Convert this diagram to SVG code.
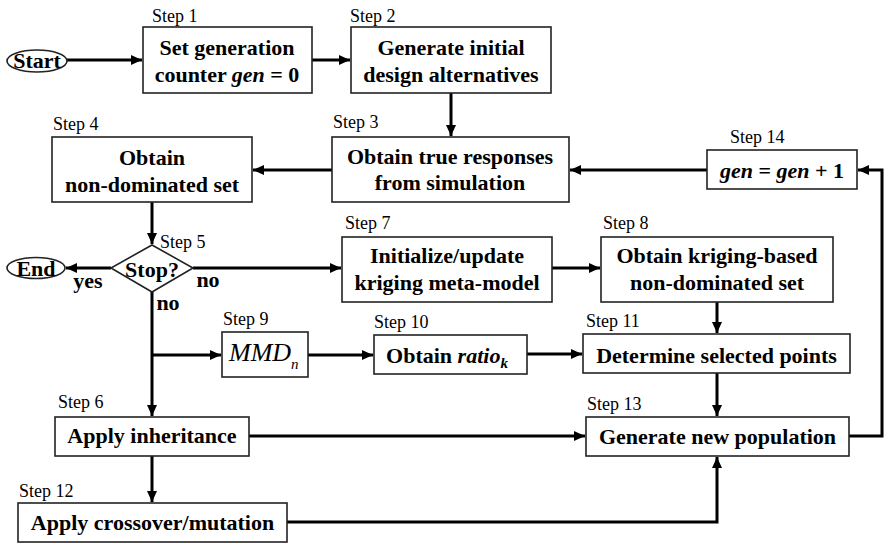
<svg xmlns="http://www.w3.org/2000/svg" width="884" height="543" viewBox="0 0 884 543">
<defs>
<marker id="ah" markerUnits="userSpaceOnUse" markerWidth="12" markerHeight="10" refX="11" refY="5" orient="auto">
<path d="M0,0 L11,5 L0,10 z" fill="#000"/>
</marker>
<style>
.box{fill:#fff;stroke:#222;stroke-width:1.6}
.t{font-family:'Liberation Serif','Times New Roman',serif;font-weight:bold;font-size:22px;fill:#000;text-anchor:middle}
.s{font-family:'Liberation Serif','Times New Roman',serif;font-size:18px;fill:#000}
.m{font-family:'Liberation Serif','Times New Roman',serif;font-style:italic;fill:#000}
.c{fill:none;stroke:#000;stroke-width:3}
.i{font-style:italic}
</style>
</defs>
<rect width="884" height="543" fill="#fff"/>
<g id="connectors">
<line class="c" x1="67" y1="60" x2="142" y2="60" marker-end="url(#ah)"/>
<line class="c" x1="312" y1="60" x2="350" y2="60" marker-end="url(#ah)"/>
<line class="c" x1="451" y1="93" x2="451" y2="136" marker-end="url(#ah)"/>
<line class="c" x1="332" y1="170" x2="253" y2="170" marker-end="url(#ah)"/>
<line class="c" x1="152" y1="202" x2="152" y2="244" marker-end="url(#ah)"/>
<line class="c" x1="111" y1="268" x2="66" y2="268" marker-end="url(#ah)"/>
<line class="c" x1="193" y1="268" x2="341" y2="268" marker-end="url(#ah)"/>
<line class="c" x1="552" y1="268" x2="600" y2="268" marker-end="url(#ah)"/>
<line class="c" x1="717" y1="302" x2="717" y2="333" marker-end="url(#ah)"/>
<line class="c" x1="152" y1="292" x2="152" y2="416" marker-end="url(#ah)"/>
<line class="c" x1="152" y1="355" x2="221" y2="355" marker-end="url(#ah)"/>
<line class="c" x1="308" y1="355" x2="373" y2="355" marker-end="url(#ah)"/>
<line class="c" x1="527" y1="354" x2="582" y2="354" marker-end="url(#ah)"/>
<line class="c" x1="717" y1="373" x2="717" y2="416" marker-end="url(#ah)"/>
<line class="c" x1="249" y1="436" x2="585" y2="436" marker-end="url(#ah)"/>
<line class="c" x1="152" y1="456" x2="152" y2="502" marker-end="url(#ah)"/>
<polyline class="c" points="287,522 717,522 717,457" marker-end="url(#ah)"/>
<polyline class="c" points="849,436 882,436 882,170 858,170" marker-end="url(#ah)"/>
<line class="c" x1="707" y1="170" x2="570" y2="170" marker-end="url(#ah)"/>
</g>
<g id="start">
<ellipse cx="37" cy="61" rx="30" ry="11" class="box"/>
<text class="t" x="37" y="68">Start</text>
</g>
<g id="step1">
<text class="s" x="152" y="22">Step 1</text>
<rect class="box" x="143" y="27" width="169" height="66"/>
<text class="t" x="227" y="55">Set generation</text>
<text class="t" x="227" y="82">counter <tspan class="i">gen</tspan> = 0</text>
</g>
<g id="step2">
<text class="s" x="350" y="22">Step 2</text>
<rect class="box" x="351" y="27" width="200" height="66"/>
<text class="t" x="451" y="55">Generate initial</text>
<text class="t" x="451" y="82">design alternatives</text>
</g>
<g id="step3">
<text class="s" x="333" y="128">Step 3</text>
<rect class="box" x="332" y="137" width="237" height="65"/>
<text class="t" x="450" y="164">Obtain true responses</text>
<text class="t" x="450" y="190">from simulation</text>
</g>
<g id="step4">
<text class="s" x="53" y="130">Step 4</text>
<rect class="box" x="52" y="137" width="200" height="65"/>
<text class="t" x="152" y="165">Obtain</text>
<text class="t" x="152" y="192">non-dominated set</text>
</g>
<g id="step5">
<polygon class="box" points="152,245 193,268 152,292 111,268"/>
<text class="s" x="160" y="248">Step 5</text>
<text class="t" x="152" y="277">Stop?</text>
<text class="t" x="88" y="288">yes</text>
<text class="t" x="208" y="287">no</text>
<text class="t" x="168" y="310">no</text>
</g>
<g id="end">
<ellipse cx="36" cy="268" rx="29" ry="10.5" class="box"/>
<text class="t" x="36" y="276">End</text>
</g>
<g id="step14">
<text class="s" x="730" y="143">Step 14</text>
<rect class="box" x="707" y="150" width="150" height="39"/>
<text class="t" x="782" y="178"><tspan class="i">gen</tspan> = <tspan class="i">gen</tspan> + 1</text>
</g>
<g id="step7">
<text class="s" x="345" y="229">Step 7</text>
<rect class="box" x="342" y="237" width="210" height="65"/>
<text class="t" x="447" y="263">Initialize/update</text>
<text class="t" x="447" y="290">kriging meta-model</text>
</g>
<g id="step8">
<text class="s" x="603" y="229">Step 8</text>
<rect class="box" x="601" y="237" width="232" height="65"/>
<text class="t" x="717" y="263">Obtain kriging-based</text>
<text class="t" x="717" y="290">non-dominated set</text>
</g>
<g id="step9">
<text class="s" x="223" y="325">Step 9</text>
<rect class="box" x="222" y="332" width="86" height="45"/>
<text class="m" x="229" y="361" font-size="26">MMD</text>
<text class="m" x="291" y="369" font-size="15">n</text>
</g>
<g id="step10">
<text class="s" x="374" y="328">Step 10</text>
<rect class="box" x="374" y="335" width="153" height="39"/>
<text class="t" x="447" y="363">Obtain <tspan class="i">ratio</tspan><tspan class="i" font-size="15" dy="5">k</tspan></text>
</g>
<g id="step11">
<text class="s" x="586" y="327">Step 11</text>
<rect class="box" x="583" y="334" width="267" height="39"/>
<text class="t" x="716.5" y="363">Determine selected points</text>
</g>
<g id="step6">
<text class="s" x="58" y="408">Step 6</text>
<rect class="box" x="55" y="417" width="194" height="39"/>
<text class="t" x="152" y="443">Apply inheritance</text>
</g>
<g id="step13">
<text class="s" x="587" y="410">Step 13</text>
<rect class="box" x="586" y="417" width="263" height="39"/>
<text class="t" x="717.5" y="444">Generate new population</text>
</g>
<g id="step12">
<text class="s" x="19" y="497">Step 12</text>
<rect class="box" x="18" y="503" width="269" height="39"/>
<text class="t" x="152.5" y="530">Apply crossover/mutation</text>
</g>
</svg>
